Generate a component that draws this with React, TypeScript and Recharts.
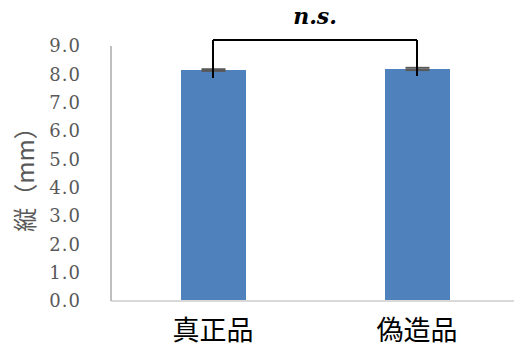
import React from 'react';
import { BarChart, Bar, XAxis, YAxis, ErrorBar, ReferenceLine, Label } from 'recharts';

const categories = ['真正品', '偽造品'];
const means = [8.15, 8.19];
const errors = [0.03, 0.04];
const yTicks = [0, 1, 2, 3, 4, 5, 6, 7, 8, 9];
const bracketY = 9.21;
const bracketEnds = [7.87, 7.94];
const sigLabel = 'n.s.';

const data = categories.map((c, i) => ({ name: c, value: means[i], err: errors[i] }));

export default function App() {
  return (
    <div style={{ position: 'absolute', left: 0, top: 0, width: 514, height: 354, overflow: 'hidden', background: '#fff' }}>
      <BarChart width={520} height={354} data={data} margin={{ top: 46, right: 1, left: 0, bottom: 0 }}>
        <XAxis
          dataKey="name"
          axisLine={{ stroke: '#d9d9d9', strokeWidth: 2 }}
          tickLine={false}
          tickSize={0}
          tickMargin={20}
          height={53}
          tick={{ fontSize: 27, fill: '#000', fontFamily: '"Noto Sans CJK JP", sans-serif' }}
        />
        <YAxis
          domain={[0, 9]}
          ticks={yTicks}
          interval={0}
          width={111}
          axisLine={{ stroke: '#bfbfbf', strokeWidth: 2 }}
          tickLine={false}
          tickSize={0}
          tickMargin={30}
          tickFormatter={(v: number) => v.toFixed(1)}
          tick={{ fontSize: 18, fill: '#595959', fontFamily: '"DejaVu Serif", serif', letterSpacing: 1 }}
        >
          <Label
            value="縦（mm）"
            angle={-90}
            position="insideLeft"
            offset={25}
            style={{ textAnchor: 'middle', fontSize: 24, fill: '#595959', fontFamily: '"Noto Sans CJK JP", sans-serif' }}
          />
        </YAxis>
        <Bar dataKey="value" fill="#4f81bd" barSize={65} isAnimationActive={false}>
          <ErrorBar dataKey="err" width={12} stroke="#595959" strokeWidth={2} direction="y" />
        </Bar>
        <ReferenceLine
          ifOverflow="visible"
          segment={[{ x: categories[0], y: bracketY }, { x: categories[1], y: bracketY }]}
          stroke="#000"
          strokeWidth={2}
          label={{ value: sigLabel, position: 'top', offset: 16, fontSize: 22, fill: '#000', fontStyle: 'italic', fontWeight: 'bold', fontFamily: '"DejaVu Serif", serif' }}
        />
        <ReferenceLine
          ifOverflow="visible"
          segment={[{ x: categories[0], y: bracketY }, { x: categories[0], y: bracketEnds[0] }]}
          stroke="#000"
          strokeWidth={2}
        />
        <ReferenceLine
          ifOverflow="visible"
          segment={[{ x: categories[1], y: bracketY }, { x: categories[1], y: bracketEnds[1] }]}
          stroke="#000"
          strokeWidth={2}
        />
      </BarChart>
    </div>
  );
}
